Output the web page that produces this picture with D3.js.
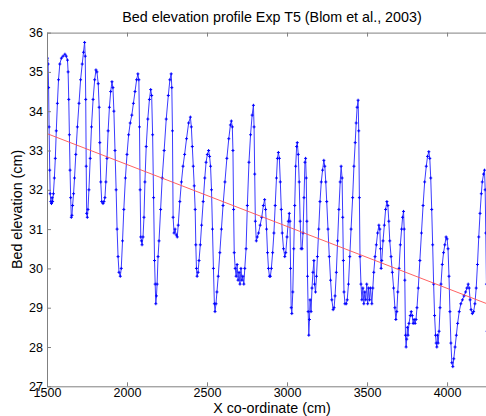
<!DOCTYPE html>
<html><head><meta charset="utf-8">
<script src="https://cdn.jsdelivr.net/npm/d3@7"></script>
<style>body{margin:0;background:#fff}svg{display:block}text{font-family:"Liberation Sans",Arial,sans-serif;fill:#000}</style>
</head><body><svg id="c" width="486" height="416"></svg>
<script>
const titleText = "Bed elevation profile Exp T5 (Blom et al., 2003)";
const xLabel = "X co-ordinate (cm)";
const yLabel = "Bed elevation (cm)";
const xTicks = [1500, 2000, 2500, 3000, 3500, 4000];
const yTicks = [27, 28, 29, 30, 31, 32, 33, 34, 35, 36];
const xDomain = [1500, 4312];
const yDomain = [27, 36];
// bed profile
const profileX = [1500,1503,1507,1510,1513,1517,1520,1524,1528,1532,1535,1540,1546,1552,1558,1565,1572,1580,1590,1600,1612,1620,1628,1632,1636,1640,1644,1648,1652,1656,1660,1666,1672,1680,1690,1700,1710,1720,1728,1735,1739,1742,1745,1748,1752,1756,1762,1770,1778,1788,1798,1806,1812,1820,1826,1830,1836,1842,1850,1856,1862,1868,1875,1882,1890,1898,1906,1912,1918,1925,1932,1938,1944,1950,1958,1964,1972,1980,1990,2000,2010,2020,2030,2040,2050,2060,2068,2074,2078,2082,2086,2090,2094,2100,2106,2112,2120,2130,2140,2148,2154,2160,2166,2172,2176,2180,2184,2188,2194,2200,2210,2220,2232,2245,2258,2268,2276,2280,2284,2288,2294,2300,2308,2314,2320,2330,2340,2350,2360,2372,2385,2396,2402,2408,2414,2420,2426,2430,2434,2438,2444,2450,2458,2466,2476,2486,2494,2502,2510,2516,2522,2528,2534,2540,2546,2550,2556,2562,2570,2580,2590,2600,2612,2624,2636,2646,2652,2658,2662,2666,2670,2676,2682,2688,2694,2700,2706,2712,2718,2724,2730,2736,2744,2752,2762,2772,2782,2790,2794,2798,2802,2808,2814,2822,2832,2842,2852,2860,2866,2872,2878,2884,2890,2896,2902,2910,2918,2926,2934,2940,2946,2952,2958,2964,2970,2978,2986,2992,3000,3008,3014,3018,3022,3026,3030,3036,3042,3048,3054,3060,3064,3070,3076,3082,3088,3094,3100,3106,3112,3116,3120,3124,3128,3132,3136,3140,3144,3150,3156,3162,3168,3172,3178,3184,3190,3198,3206,3214,3222,3230,3236,3242,3248,3256,3264,3272,3280,3288,3294,3300,3308,3316,3324,3332,3338,3344,3348,3352,3356,3362,3370,3376,3384,3392,3400,3410,3418,3426,3432,3438,3444,3448,3452,3456,3462,3468,3474,3480,3486,3492,3498,3504,3510,3516,3522,3530,3536,3542,3550,3558,3566,3574,3580,3584,3588,3592,3600,3608,3616,3624,3630,3636,3642,3650,3658,3666,3674,3680,3686,3692,3700,3708,3716,3722,3728,3732,3736,3740,3744,3748,3752,3756,3762,3770,3776,3782,3788,3794,3800,3806,3812,3820,3830,3840,3850,3860,3870,3878,3886,3892,3898,3904,3910,3916,3922,3928,3932,3936,3940,3944,3950,3956,3962,3970,3978,3986,3994,4000,4006,4012,4018,4024,4030,4036,4042,4050,4058,4066,4076,4086,4096,4106,4116,4124,4132,4138,4144,4150,4158,4166,4174,4182,4190,4198,4206,4214,4220,4228,4234,4238,4242,4246,4250];
const profileY = [35.3,35.35,35.2,34.6,33.6,32.5,31.9,31.7,31.65,31.8,31.7,31.9,32.3,32.8,33.5,34.2,34.8,35.2,35.35,35.4,35.45,35.4,35.3,35.0,34.3,33.4,32.5,31.8,31.3,31.35,31.6,31.9,32.3,32.9,33.6,34.2,34.8,35.2,35.5,35.75,35.4,34.3,32.6,31.4,31.3,31.5,32.0,32.8,33.6,34.3,34.8,35.05,35.0,34.7,34.1,33.2,32.2,31.7,31.65,31.7,31.8,32.2,32.8,33.5,34.1,34.5,34.75,34.6,34.0,33.0,32.0,31.0,30.3,29.9,29.8,30.0,30.7,31.5,32.3,32.9,33.4,33.7,33.9,34.2,34.5,34.8,34.95,34.8,33.6,32.0,30.8,30.7,30.6,30.8,31.3,32.2,33.1,33.8,34.3,34.55,34.4,33.4,31.8,30.2,29.6,29.1,29.3,29.6,30.3,30.7,31.5,32.3,33.0,33.8,34.4,34.8,34.95,34.6,33.5,31.3,30.9,31.0,30.85,30.8,31.1,31.7,32.2,32.6,32.9,33.3,33.7,33.85,33.6,33.1,32.6,32.1,31.5,30.6,30.0,29.8,29.9,30.2,30.6,31.1,31.7,32.3,32.7,32.9,33.0,32.85,32.6,32.0,31.0,30.0,29.1,28.9,29.1,29.4,29.8,30.4,31.0,31.6,32.2,32.8,33.3,33.65,33.75,33.6,33.0,31.5,30.4,30.0,29.8,30.1,29.7,29.9,29.6,30.0,29.7,29.8,29.6,30.0,30.5,31.6,32.7,33.4,33.9,34.15,33.6,32.4,31.2,30.7,30.8,30.9,31.1,31.3,31.6,31.75,31.5,31.0,30.4,30.0,29.8,29.8,30.0,30.4,30.9,31.6,32.3,32.8,32.95,32.8,32.2,31.5,30.9,30.5,30.3,30.4,30.8,31.2,31.4,31.2,30.0,29.0,28.85,29.4,30.5,31.6,32.6,33.1,33.2,32.9,32.2,31.2,30.5,30.5,30.9,31.8,32.7,32.8,32.3,31.2,29.8,28.9,28.3,28.7,29.2,28.9,29.5,29.9,30.2,29.6,29.4,29.8,30.3,31.0,31.7,32.2,32.5,32.75,32.6,32.2,31.7,31.0,30.3,29.7,29.2,28.95,29.0,29.3,29.9,30.7,31.5,32.2,32.6,32.3,31.3,30.2,29.4,29.1,29.1,29.2,29.6,30.3,31.0,31.8,32.6,33.2,33.7,34.1,34.28,33.5,31.8,30.3,29.6,29.2,29.5,29.1,29.4,29.2,29.6,29.1,29.5,29.2,29.5,29.1,29.5,29.9,30.3,30.6,30.9,31.1,31.0,30.5,30.0,30.2,30.7,31.1,31.5,31.7,31.6,31.2,30.7,30.3,29.9,29.5,29.0,28.7,28.9,29.4,30.0,30.6,31.0,31.3,31.45,31.0,29.7,28.3,28.0,28.2,28.5,28.3,28.6,28.8,28.9,28.8,28.6,28.7,28.6,28.7,29.0,29.5,30.2,30.9,31.6,32.2,32.6,32.85,32.97,32.8,32.3,31.5,30.6,29.6,28.8,28.3,28.1,28.0,28.3,28.1,28.4,29.0,29.6,30.1,30.4,30.6,30.8,30.75,30.5,29.8,28.9,28.1,27.6,27.5,27.7,28.0,28.3,28.6,28.9,29.1,29.2,29.3,29.4,29.5,29.6,29.5,29.2,28.95,28.85,28.9,29.1,29.5,30.1,30.8,31.4,31.9,32.2,32.4,32.5,32.0,30.9,29.6,28.4];
// linear trend line end points
const trendX = [1500, 4256];
const trendY = [33.43, 29.09];

const svg = d3.select("#c");
const m = {left: 47, right: 497, top: 32.6, bottom: 386.3};
const x = d3.scaleLinear().domain(xDomain).range([m.left, m.right]);
const y = d3.scaleLinear().domain(yDomain).range([m.bottom, m.top]);

svg.append("defs").append("clipPath").attr("id","clip").append("rect")
  .attr("x", m.left).attr("y", m.top).attr("width", m.right - m.left).attr("height", m.bottom - m.top);

const pts = profileX.map((v, i) => [v, profileY[i]]);
const plot = svg.append("g").attr("clip-path", "url(#clip)");
plot.append("path").datum(pts)
  .attr("d", d3.line().x(d => x(d[0])).y(d => y(d[1])))
  .attr("fill", "none").attr("stroke", "#3b3bff").attr("stroke-width", 1);
plot.append("path")
  .attr("d", pts.map(d => { const px = x(d[0]), py = y(d[1]); return `M${px-1.5},${py}h3M${px},${py-1.5}v3`; }).join(""))
  .attr("stroke", "#0000ff").attr("stroke-width", 1).attr("fill", "none");
plot.append("line")
  .attr("x1", x(trendX[0])).attr("y1", y(trendY[0])).attr("x2", x(trendX[1])).attr("y2", y(trendY[1]))
  .attr("stroke", "#ff5050").attr("stroke-width", 0.9);

const axCol = "#808080";
const fs = "12.5px";
const axB = svg.append("g").attr("transform", `translate(0,${m.bottom})`)
  .call(d3.axisBottom(x).tickValues(xTicks).tickSizeInner(-4).tickSizeOuter(0).tickPadding(2).tickFormat(d3.format("d")));
const axT = svg.append("g").attr("transform", `translate(0,${m.top})`)
  .call(d3.axisTop(x).tickValues(xTicks).tickSizeInner(-4).tickSizeOuter(0).tickFormat(""));
const axL = svg.append("g").attr("transform", `translate(${m.left},0)`)
  .call(d3.axisLeft(y).tickValues(yTicks).tickSizeInner(-4).tickSizeOuter(0).tickPadding(4).tickFormat(d3.format("d")));
const axR = svg.append("g").attr("transform", `translate(${m.right},0)`)
  .call(d3.axisRight(y).tickValues(yTicks).tickSizeInner(-4).tickSizeOuter(0).tickFormat(""));
[axB, axT, axL, axR].forEach(g => {
  g.selectAll(".domain").attr("stroke", axCol);
  g.selectAll(".tick line").attr("stroke", axCol);
  g.selectAll("text").attr("font-size", fs).attr("fill", "#000").attr("font-family", '"Liberation Sans",Arial,sans-serif');
});
axB.selectAll("text").attr("dy", "0.71em");

svg.append("text").attr("x", 272).attr("y", 21.5).attr("text-anchor", "middle")
  .attr("font-size", "14.3px").text(titleText);
svg.append("text").attr("x", 272).attr("y", 413).attr("text-anchor", "middle")
  .attr("font-size", "14.3px").text(xLabel);
svg.append("text").attr("transform", `translate(22,${(m.top + m.bottom) / 2}) rotate(-90)`)
  .attr("text-anchor", "middle").attr("font-size", "14.3px").text(yLabel);
</script></body></html>
